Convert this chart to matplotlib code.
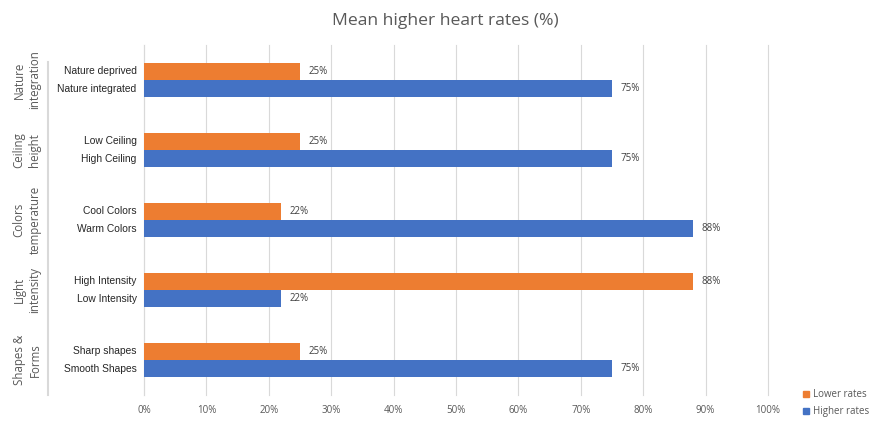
"""Mean higher heart rates per design feature, Excel-style clustered bars."""

import matplotlib.pyplot as plt
import numpy as np

groups = ["Nature\nintegration", "Ceiling\nheight", "Colors\ntemperature", "Light\nintensity", "Shapes &\nForms"]
lower_labels = ["Nature deprived", "Low Ceiling", "Cool Colors", "High Intensity", "Sharp shapes"]
higher_labels = ["Nature integrated", "High Ceiling", "Warm Colors", "Low Intensity", "Smooth Shapes"]
lower_rates = [25, 25, 22, 88, 25]
higher_rates = [75, 75, 88, 22, 75]
x_ticks = [0, 10, 20, 30, 40, 50, 60, 70, 80, 90, 100]

ORANGE = "#ED7D31"
BLUE = "#4472C4"
GRAY_TEXT = "#595959"
SOFT = ["Open Sans", "DejaVu Sans"]

plt.rcParams["font.family"] = ["Liberation Sans", "DejaVu Sans"]

fig = plt.figure(figsize=(8.96, 4.23), dpi=100)
ax = fig.add_axes([144 / 896, 28 / 423, (768 - 144) / 896, 350 / 423])

y = np.arange(len(groups))
h = 0.245
off = 0.125
ax.barh(y - off, lower_rates, height=h, color=ORANGE, zorder=3)
ax.barh(y + off, higher_rates, height=h, color=BLUE, zorder=3)

for yi, v in zip(y - off, lower_rates):
    ax.text(v + 1.3, yi, f"{v}%", va="center", ha="left", fontsize=7, color="#404040", family=SOFT)
for yi, v in zip(y + off, higher_rates):
    ax.text(v + 1.3, yi, f"{v}%", va="center", ha="left", fontsize=7, color="#404040", family=SOFT)

ax.set_xlim(0, 100)
ax.set_ylim(len(groups) - 0.5, -0.5)
ax.set_xticks(x_ticks)
ax.set_xticklabels([f"{t}%" for t in x_ticks], fontsize=7, color=GRAY_TEXT, family=SOFT)
ax.tick_params(axis="x", length=0, pad=7)
ax.set_yticks([])
ax.grid(axis="x", color="#D9D9D9", linewidth=0.8, zorder=0)
for gl in ax.get_xgridlines():
    gl.set_clip_on(False)
for side in ["top", "right", "bottom"]:
    ax.spines[side].set_visible(False)
ax.spines["left"].set_color("#D9D9D9")

# two-level category labels
for yi, lo, hi in zip(y, lower_labels, higher_labels):
    ax.text(-1.2, yi - off, lo, ha="right", va="center", fontsize=7.4, color="#262626")
    ax.text(-1.2, yi + off, hi, ha="right", va="center", fontsize=7.4, color="#262626")
for yi, g in zip(y, groups):
    fig.text(27 / 896, 1 - (45 + 70 * yi + 35) / 423, g, rotation=90, ha="center", va="center",
             fontsize=8.3, color=GRAY_TEXT, linespacing=1.3, family=SOFT)
fig.add_artist(plt.Line2D([48 / 896, 48 / 896], [1 - 62 / 423, 28 / 423], color="#D9D9D9", linewidth=1.5))

fig.text(445 / 896, 1 - 21 / 423, "Mean higher heart rates (%)", ha="center", va="center",
         fontsize=12.6, color=GRAY_TEXT, family=SOFT)

# legend
for ypx, col, lab in [(394, ORANGE, "Lower rates"), (411, BLUE, "Higher rates")]:
    fig.patches.append(plt.Rectangle((803 / 896, 1 - (ypx + 3) / 423), 6 / 896, 6 / 423,
                                     transform=fig.transFigure, color=col, figure=fig))
    fig.text(813 / 896, 1 - ypx / 423, lab, ha="left", va="center", fontsize=7, color=GRAY_TEXT,
             family=SOFT)

fig.savefig("out.png", dpi=100, facecolor="white")
